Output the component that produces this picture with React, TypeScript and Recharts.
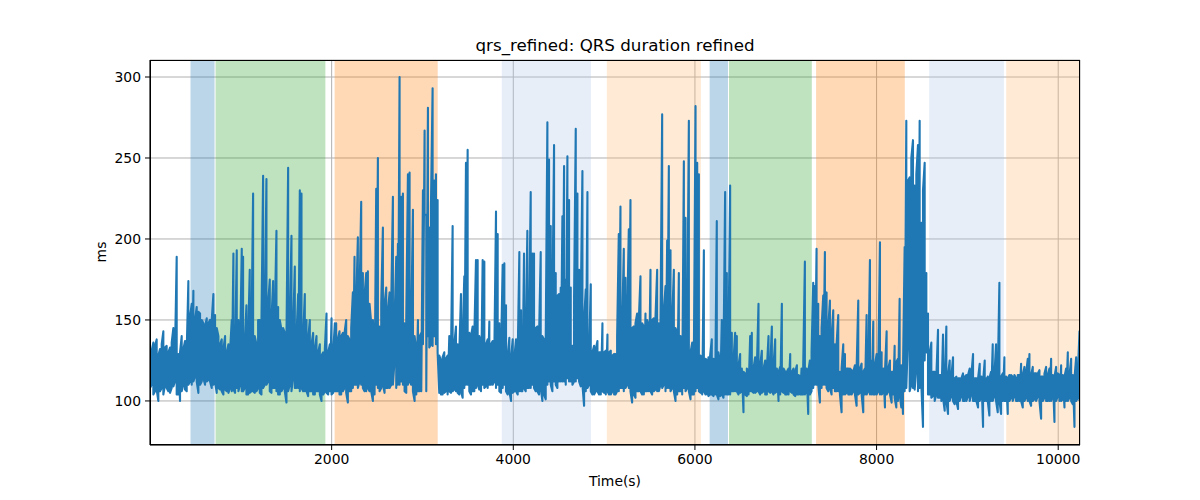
import { LineChart, Line, XAxis, YAxis, CartesianGrid, ReferenceArea } from "recharts";

// QRS duration (ms) in ten ~1025 s segments.
// segN holds one extreme of each time bin, segNb the opposite extreme (min/max per bin).
const segStart = [0, 1025, 2050, 3075, 4100, 5125, 6149, 7174, 8199, 9224];
const sampleStep = 18.37; // seconds between bins

const seg1 = [130, 110, 136, 106, 138, 100, 132, 108, 143, 110, 134, 106, 133, 108, 145, 112, 189,
  104, 100, 140, 110, 137, 106, 174, 112, 160, 168, 115, 158, 105, 154, 112, 148, 110, 151, 113, 150,
  108, 166, 153, 105, 140, 107, 138, 104, 140, 106, 135, 108, 150, 191, 105, 193, 150, 110, 194];
const seg1b = [108, 131, 104, 134, 107, 128, 106, 135, 104, 133, 108, 130, 105, 136, 109, 131, 104, 129, 130, 106,
  132, 107, 131, 110, 152, 110, 112, 150, 112, 155, 110, 150, 114, 146, 112, 148, 112, 150, 110, 112,
  145, 108, 135, 106, 132, 107, 130, 105, 131, 106, 107, 130, 108, 106, 131, 106];

const seg2 = [189, 108, 159, 104, 181, 106, 228, 105, 135, 108, 150, 104, 239, 110, 237, 112, 175, 105, 174, 108,
  205, 158, 104, 144, 108, 142, 99, 244, 110, 202, 115, 183, 108, 166, 230, 228, 106, 166, 150, 103,
  150, 106, 142, 104, 140, 106, 135, 100, 130, 106, 154, 104, 135, 151, 105, 148];
const seg2b = [106, 135, 104, 138, 105, 140, 106, 140, 106, 150, 105, 148, 108, 155, 110, 160, 106, 150, 108, 152,
  106, 104, 150, 106, 145, 106, 140, 106, 150, 106, 145, 108, 140, 108, 106, 108, 140, 106, 106, 138,
  106, 135, 104, 132, 106, 130, 104, 128, 104, 132, 105, 130, 106, 104, 130, 106];

const seg3 = [148, 106, 143, 104, 142, 108, 150, 99, 138, 106, 167, 189, 110, 201, 112, 223, 179, 106, 179, 180,
  106, 148, 100, 125, 231, 250, 146, 108, 207, 105, 170, 108, 167, 110, 226, 125, 189, 197, 300, 226,
  228, 148, 105, 240, 241, 110, 218, 100, 131, 150, 106, 142, 230, 267, 215, 281];
const seg3b = [106, 138, 104, 140, 106, 142, 105, 140, 106, 145, 108, 110, 160, 108, 165, 110, 108, 165, 106, 108,
  160, 106, 150, 104, 110, 108, 106, 160, 110, 160, 108, 155, 108, 160, 110, 150, 108, 110, 110, 112,
  110, 106, 150, 110, 112, 150, 106, 140, 104, 106, 140, 106, 135, 215, 106, 140];

const seg4 = [207, 135, 293, 236, 240, 224, 105, 125, 104, 130, 106, 128, 140, 105, 208, 107, 146, 135, 104, 166,
  102, 177, 247, 255, 142, 104, 146, 106, 187, 187, 107, 135, 187, 186, 109, 138, 149, 110, 137, 112,
  217, 203, 148, 105, 184, 185, 159, 104, 139, 100, 138, 106, 138, 104, 192, 156];
const seg4b = [133, 220, 134, 140, 135, 130, 128, 104, 127, 105, 126, 104, 106, 128, 106, 135, 106, 105, 130, 106,
  140, 108, 110, 110, 106, 140, 106, 140, 108, 110, 140, 106, 110, 108, 135, 108, 110, 135, 110, 130,
  108, 110, 106, 130, 108, 110, 106, 128, 106, 126, 105, 127, 106, 128, 106, 106];

const seg5 = [140, 191, 106, 205, 108, 229, 191, 191, 106, 146, 104, 192, 100, 138, 101, 272, 249, 208, 106, 258,
  179, 108, 166, 170, 214, 245, 175, 251, 224, 170, 134, 112, 268, 228, 181, 109, 242, 97, 169, 229,
  110, 172, 104, 134, 106, 137, 104, 130, 148, 105, 131, 141, 104, 131, 106, 129];
const seg5b = [106, 108, 140, 108, 145, 108, 110, 108, 145, 106, 140, 108, 140, 104, 138, 110, 112, 110, 160, 112,
  110, 165, 112, 112, 112, 112, 110, 114, 112, 112, 110, 165, 112, 114, 112, 160, 110, 150, 106, 108,
  130, 106, 130, 104, 132, 106, 130, 104, 106, 130, 104, 106, 130, 104, 128, 104];

const seg6 = [129, 106, 203, 220, 108, 194, 176, 110, 206, 224, 99, 146, 102, 154, 106, 177, 104, 146, 154, 106,
  146, 181, 104, 151, 107, 181, 148, 110, 277, 110, 171, 199, 245, 193, 108, 181, 100, 142, 179, 106,
  123, 248, 213, 108, 273, 101, 136, 104, 282, 247, 240, 105, 125, 193, 104, 125];
const seg6b = [104, 140, 106, 108, 145, 106, 108, 150, 108, 106, 145, 104, 148, 106, 150, 106, 148, 104, 106, 150,
  106, 106, 150, 106, 152, 106, 106, 150, 108, 155, 106, 108, 108, 106, 150, 106, 145, 104, 106, 140,
  104, 108, 106, 140, 106, 130, 104, 128, 106, 108, 106, 128, 104, 106, 126, 104];

const seg7 = [127, 104, 138, 103, 125, 211, 101, 123, 150, 102, 229, 179, 104, 233, 142, 106, 142, 140, 104, 129,
  106, 93, 117, 103, 118, 140, 142, 105, 127, 106, 160, 104, 131, 106, 125, 104, 140, 105, 146, 104,
  138, 106, 100, 121, 160, 105, 118, 104, 120, 129, 105, 120, 103, 122, 104, 115];
const seg7b = [103, 128, 104, 126, 104, 104, 130, 103, 104, 125, 104, 104, 135, 104, 106, 125, 106, 106, 122, 105,
  120, 118, 104, 120, 104, 106, 106, 120, 105, 120, 106, 122, 105, 120, 104, 120, 106, 120, 106, 122,
  105, 120, 118, 104, 106, 120, 104, 118, 104, 106, 118, 104, 118, 104, 116, 104];

const seg8 = [120, 104, 186, 106, 92, 125, 106, 173, 171, 194, 160, 99, 108, 165, 192, 167, 106, 162, 104, 156,
  135, 106, 153, 118, 93, 135, 129, 105, 120, 104, 119, 106, 122, 97, 162, 105, 123, 93, 120, 153,
  106, 187, 125, 149, 104, 129, 106, 198, 130, 105, 96, 143, 106, 125, 99, 118];
const seg8b = [104, 122, 104, 120, 118, 104, 130, 108, 110, 110, 110, 140, 145, 110, 110, 108, 145, 108, 140, 108,
  106, 135, 106, 104, 120, 104, 104, 120, 104, 120, 104, 118, 104, 120, 104, 120, 104, 118, 104, 104,
  120, 104, 104, 104, 122, 104, 120, 104, 104, 120, 118, 104, 120, 104, 118, 104];

const seg9 = [134, 96, 126, 163, 96, 92, 195, 273, 140, 238, 110, 261, 233, 120, 258, 273, 210, 84, 247, 179,
  154, 104, 136, 103, 118, 104, 144, 102, 116, 141, 94, 146, 92, 125, 103, 127, 98, 115, 95, 114,
  103, 117, 100, 116, 103, 120, 104, 129, 100, 114, 96, 123, 104, 84, 125, 114];
const seg9b = [102, 124, 100, 104, 122, 118, 106, 108, 236, 106, 250, 108, 107, 240, 106, 108, 110, 230, 125, 130,
  104, 130, 102, 118, 100, 115, 102, 116, 100, 102, 114, 100, 116, 100, 115, 100, 114, 100, 114, 100,
  114, 100, 115, 100, 116, 100, 116, 100, 114, 100, 114, 100, 115, 112, 100, 100];

const seg10 = [115, 91, 118, 135, 103, 135, 93, 173, 92, 117, 127, 100, 92, 116, 102, 115, 103, 114, 100, 116,
  123, 96, 121, 102, 126, 129, 97, 121, 101, 117, 103, 119, 89, 115, 102, 121, 100, 120, 126, 104,
  87, 121, 103, 116, 122, 101, 96, 120, 130, 102, 126, 98, 84, 127, 102, 143];
const seg10b = [100, 114, 100, 100, 116, 100, 114, 100, 115, 100, 100, 115, 114, 100, 116, 100, 116, 100, 116, 100,
  100, 116, 100, 117, 100, 100, 116, 100, 117, 100, 117, 100, 115, 100, 117, 100, 116, 100, 100, 116,
  115, 100, 117, 100, 100, 116, 115, 100, 100, 116, 100, 116, 114, 100, 116, 100];

const segments = [seg1, seg2, seg3, seg4, seg5, seg6, seg7, seg8, seg9, seg10];
const partners = [seg1b, seg2b, seg3b, seg4b, seg5b, seg6b, seg7b, seg8b, seg9b, seg10b];

// shaded phases (seconds)
const bandStart = [446, 722, 2033, 3873, 5030, 6162, 6375, 7334, 8579, 9427];
const bandEnd = [711, 1931, 3168, 4855, 6066, 6364, 7287, 8311, 9402, 10242];
const bandKind = ["a", "b", "c", "d", "e", "a", "b", "c", "d", "e"];

const xTicks = [2000, 4000, 6000, 8000, 10000];
const yTicks = [100, 150, 200, 250, 300];

const kindColor: Record<string, string> = {
  a: "#1f77b4",
  b: "#2ca02c",
  c: "#ff7f0e",
  d: "#aec7e8",
  e: "#ffbb78",
};

const data = segments.flatMap((seg, k) =>
  seg.flatMap((v, i) => {
    const t = segStart[k] + i * sampleStep;
    return [
      { t, ms: v },
      { t, ms: partners[k][i] },
    ];
  })
);

const font = "'DejaVu Sans', sans-serif";
const tickStyle = { fontSize: 13.9, fill: "#000", fontFamily: font };

export default function App() {
  return (
    <div style={{ position: "absolute", left: 0, top: 0, width: 1200, height: 500, background: "#fff" }}>
      <div
        style={{
          position: "absolute",
          left: 150,
          width: 930,
          top: 35,
          textAlign: "center",
          fontFamily: font,
          fontSize: 16.7,
          lineHeight: "20px",
        }}
      >
        qrs_refined: QRS duration refined
      </div>
      <LineChart
        width={1200}
        height={500}
        data={data}
        margin={{ top: 60, right: 120, bottom: 25, left: 90 }}
      >
        {bandStart.map((s, i) => (
          <ReferenceArea
            key={i}
            x1={s}
            x2={bandEnd[i]}
            fill={kindColor[bandKind[i]]}
            fillOpacity={0.3}
            stroke="none"
            ifOverflow="hidden"
          />
        ))}
        <CartesianGrid stroke="#b0b0b0" strokeWidth={1} />
        <XAxis
          type="number"
          dataKey="t"
          domain={[0, 10240]}
          ticks={xTicks}
          allowDataOverflow
          height={30}
          tick={tickStyle}
          tickSize={5}
          tickMargin={4}
          axisLine={{ stroke: "#000" }}
          tickLine={{ stroke: "#000" }}
        />
        <YAxis
          type="number"
          domain={[72.8, 310.5]}
          ticks={yTicks}
          allowDataOverflow
          width={60}
          tick={tickStyle}
          tickSize={5}
          tickMargin={4}
          axisLine={{ stroke: "#000" }}
          tickLine={{ stroke: "#000" }}
        />
        <Line
          type="linear"
          dataKey="ms"
          stroke="#1f77b4"
          strokeWidth={2.1}
          strokeLinejoin="round"
          dot={false}
          isAnimationActive={false}
        />
      </LineChart>
      <div
        style={{
          position: "absolute",
          left: 150,
          top: 60,
          width: 930,
          height: 385,
          boxSizing: "border-box",
          border: "1px solid #000",
          pointerEvents: "none",
        }}
      />
      <div
        style={{
          position: "absolute",
          left: 150,
          width: 930,
          top: 472,
          textAlign: "center",
          fontFamily: font,
          fontSize: 13.9,
          lineHeight: "18px",
        }}
      >
        Time(s)
      </div>
      <div
        style={{
          position: "absolute",
          left: 101,
          top: 252,
          transform: "translate(-50%, -50%) rotate(-90deg)",
          fontFamily: font,
          fontSize: 13.9,
          lineHeight: "18px",
          whiteSpace: "nowrap",
        }}
      >
        ms
      </div>
    </div>
  );
}
